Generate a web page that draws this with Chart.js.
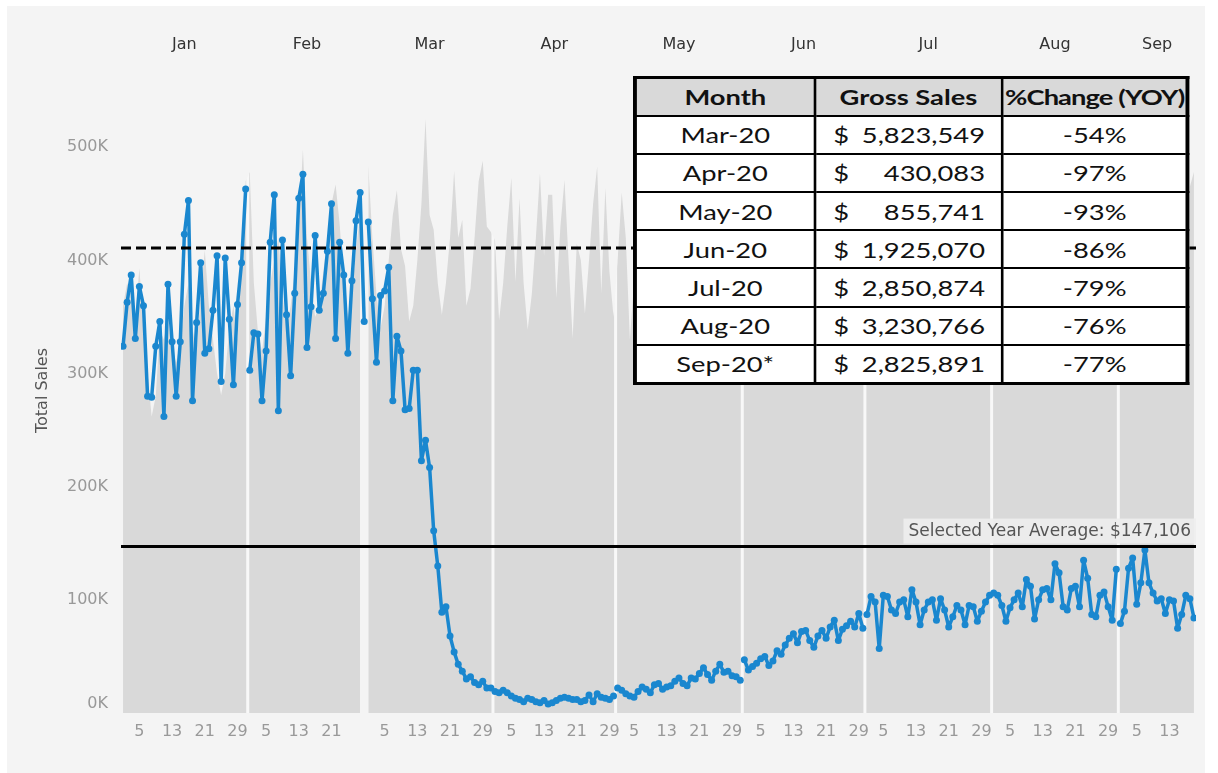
<!DOCTYPE html>
<html>
<head>
<meta charset="utf-8">
<script src="https://cdn.jsdelivr.net/npm/chart.js@4.4.1/dist/chart.umd.min.js"></script>
<style>
  html, body { margin:0; padding:0; background:#ffffff; width:1218px; height:773px; overflow:hidden; }
  #panel { position:absolute; left:7px; top:6px; width:1198px; height:767px; background:#f4f4f4; }
  #c { position:absolute; left:0; top:0; }
  #tblwrap { position:absolute; left:633px; top:76px; transform:scaleX(1.3); transform-origin:0 0; }
  #tbl { border-collapse:collapse; table-layout:fixed; width:425.5px; font-family:Lato, "DejaVu Sans", sans-serif;
         font-size:21px; color:#111; background:#fff; border:3px solid #000; }
  #tbl th, #tbl td { border:2px solid #000; padding:0; text-align:center; white-space:nowrap; overflow:hidden; }
  #tbl tr { height:38.2px; }
  #tbl th { background:#d9d9d9; font-weight:700; }
  #tbl th.pc { letter-spacing:-0.7px; }
  #tbl .m { display:flex; justify-content:space-between; padding:0 12px 0 13px; }
</style>
</head>
<body>
<div id="panel"></div>
<canvas id="c" width="1218" height="773"></canvas>
<div id="tblwrap"><table id="tbl"></table></div>
<script>
// ---------- axis / calendar ----------
const monthNames = ['Jan','Feb','Mar','Apr','May','Jun','Jul','Aug','Sep'];
const monthStartDay = [0, 31, 60, 91, 121, 152, 182, 213, 244];   // day index (2020 calendar)
const monthLengthShown = [31, 29, 31, 30, 31, 30, 31, 31, 19];
const tickMonthLength = [31, 28, 31, 30, 31, 30, 31, 31, 19];
const dayTickLabels = [5, 13, 21, 29];
const yTickValues = [0, 100, 200, 300, 400, 500];                  // thousands

// ---------- 2020 daily total sales (thousands) ----------
const sales2020Jan = [324,363,387,331,377,360,280,279,324,346,262,379,328,280,328,423,453,276,345,398,318,322,356,404,293,402,348,290,361,398,463];
const sales2020Feb = [303,336,335,276,320,416,458,267,418,352,298,371,455,476,323,359,422,356,371,408,450,331,416,387,318,382,435,460,346];
const sales2020Mar = [434,366,310,369,373,394,276,333,320,268,269,303,303,223,241,217,161,130,89,94,68,54,43,37,30,32,27,25,28,22,22];
const sales2020Apr = [19,18,20,18,15,13,12,10,13,12,10,9,11,8,9,11,13,14,13,12,12,10,11,16,10,17,14,13,12,15];
const sales2020May = [22,20,17,15,14,19,23,21,18,25,26,21,23,24,28,31,26,24,31,30,35,40,34,29,37,43,36,37,33,32,29];
const sales2020Jun = [47,38,41,44,48,50,42,46,55,52,60,66,70,62,72,73,64,58,68,73,66,76,82,64,74,77,81,76,88,75];
const sales2020Jul = [87,103,98,57,104,103,91,88,98,100,85,109,98,78,91,98,100,82,101,91,76,85,95,91,78,95,94,81,90,98,104];
const sales2020Aug = [106,104,95,81,93,100,106,94,118,112,83,100,109,110,100,132,124,94,91,110,112,94,135,119,87,85,104,107,94,82,127];
const sales2020Sep = [79,90,128,137,96,115,144,115,106,99,101,88,100,99,75,87,104,101,84];

// ---------- 2019 daily total sales (thousands), same calendar dates ----------
const sales2019Jan = [360,380,370,350,393,340,300,262,280,338,330,350,320,310,327,360,380,340,320,370,409,360,330,300,281,300,340,360,330,400,470];
const sales2019Feb = [478,380,337,320,350,380,400,420,370,340,360,390,430,498,420,380,350,360,390,420,450,467,432,380,350,370,410,440];
const sales2019Mar = [484,420,370,340,360,400,440,462,410,395,346,360,400,450,525,440,427,380,352,380,420,479,420,436,360,375,420,470,488,430,425];
const sales2019Apr = [418,347,380,430,473,381,455,380,339,370,420,477,404,458,458,367,430,471,400,331,415,400,353,400,450,483,371,464,390,350];
const sales2019May = [400,460,420,330,380,420,360,380,450,470,400,350,360,410,440,480,390,430,350,370,420,460,480,380,420,340,360,410,450,470,390];
const sales2019Jun = [440,350,360,400,450,480,390,430,345,370,410,460,485,395,440,350,365,405,455,478,400,430,340,360,410,450,490,395,445,350];
const sales2019Jul = [360,390,420,330,400,445,350,370,410,460,482,390,435,345,365,400,450,476,385,430,340,360,410,455,488,395,440,350,365,405,450];
const sales2019Aug = [470,390,435,345,360,400,455,480,395,440,350,370,410,450,485,400,430,345,360,405,460,478,390,440,350,365,410,455,482,395,430];
const sales2019Sep = [340,360,400,450,485,395,440,350,365,410,455,480,390,430,345,370,420,465,478];

// ---------- reference values (thousands) ----------
const selectedYearAverage = 147.106;
const priorYearAverage = 411;

// ---------- summary table ----------
const tableHeaders = ['Month', 'Gross Sales', '%Change (YOY)'];
const tableMonths = ['Mar-20','Apr-20','May-20','Jun-20','Jul-20','Aug-20','Sep-20*'];
const tableGrossSales = [5823549, 430083, 855741, 1925070, 2850874, 3230766, 2825891];
const tableChangeYoY = [-54, -97, -93, -86, -79, -76, -77];

// ---------- build table ----------
(function buildTable(){
  const t = document.getElementById('tbl');
  const cols = '<colgroup><col style="width:138.5px"><col style="width:143.8px"><col style="width:143.2px"></colgroup>';
  let html = cols + '<tr>' + tableHeaders.map((h,i)=>'<th' + (i===2?' class="pc"':'') + '>' + h + '</th>').join('') + '</tr>';
  tableMonths.forEach((m,i)=>{
    html += '<tr><td>' + m + '</td><td><div class="m"><span>$</span><span>' +
      tableGrossSales[i].toLocaleString('en-US') + '</span></div></td><td>' + tableChangeYoY[i] + '%</td></tr>';
  });
  t.innerHTML = html;
})();

// ---------- build datasets ----------
const months2020 = [sales2020Jan,sales2020Feb,sales2020Mar,sales2020Apr,sales2020May,sales2020Jun,sales2020Jul,sales2020Aug,sales2020Sep];
const months2019 = [sales2019Jan,sales2019Feb,sales2019Mar,sales2019Apr,sales2019May,sales2019Jun,sales2019Jul,sales2019Aug,sales2019Sep];

const points2020 = [];
months2020.forEach((arr, m) => {
  arr.forEach((v, i) => points2020.push({x: monthStartDay[m] + i, y: v}));
  if (m < months2020.length - 1) points2020.push({x: monthStartDay[m+1] - 0.5, y: null});
});
const points2019 = [];
months2019.forEach((arr, m) => {
  arr.forEach((v, i) => points2019.push({x: monthStartDay[m] + i, y: v}));
  if (arr.length < monthLengthShown[m]) points2019.push({x: monthStartDay[m] + arr.length, y: null});
});

const bottomTicks = [];
monthStartDay.forEach((s, m) => dayTickLabels.forEach(d => { if (d <= tickMonthLength[m]) bottomTicks.push(s + d - 1); }));
const topTicks = monthStartDay.map((s, m) => s + (monthLengthShown[m] - 1) / 2);

function dayOfMonth(v){
  let m = 0;
  for (let i = 0; i < monthStartDay.length; i++) if (v >= monthStartDay[i]) m = i;
  return String(Math.round(v - monthStartDay[m] + 1));
}

const refPlugin = {
  id: 'refs',
  afterDatasetDraw(chart, args){
    if (args.index !== 0) return;
    const {ctx, chartArea:{top, bottom}, scales:{x}} = chart;
    ctx.save();
    ctx.globalCompositeOperation = 'source-atop';   // only over the grey area
    ctx.strokeStyle = '#f8f8f8';
    ctx.lineWidth = 3;
    monthStartDay.slice(1).forEach(d => {
      const px = x.getPixelForValue(d - 0.5);
      ctx.beginPath(); ctx.moveTo(px, top); ctx.lineTo(px, bottom); ctx.stroke();
    });
    ctx.restore();
  },
  afterDatasetsDraw(chart){
    const {ctx, chartArea:{left, right}, scales:{y}} = chart;
    ctx.save();
    // prior-year average (dashed)
    const yd = y.getPixelForValue(priorYearAverage);
    ctx.strokeStyle = '#000'; ctx.lineWidth = 3; ctx.setLineDash([10,5]);
    ctx.beginPath(); ctx.moveTo(left, yd); ctx.lineTo(right, yd); ctx.stroke();
    // selected-year average (solid)
    const ya = y.getPixelForValue(selectedYearAverage);
    ctx.setLineDash([]);
    ctx.beginPath(); ctx.moveTo(left, ya); ctx.lineTo(right, ya); ctx.stroke();
    // label
    const txt = 'Selected Year Average: $' + Math.round(selectedYearAverage * 1000).toLocaleString('en-US');
    ctx.font = '17px "DejaVu Sans"';
    const w = ctx.measureText(txt).width;
    ctx.fillStyle = 'rgba(238,238,238,0.92)';
    ctx.fillRect(right - w - 10, ya - 28, w + 10, 25);
    ctx.fillStyle = '#555';
    ctx.textAlign = 'right'; ctx.textBaseline = 'middle';
    ctx.fillText(txt, right - 5, ya - 14.5);
    ctx.restore();
  }
};

Chart.defaults.font.family = '"DejaVu Sans", sans-serif';

new Chart(document.getElementById('c').getContext('2d'), {
  type: 'line',
  data: {
    datasets: [
      { label: '2019', data: points2019, xAxisID: 'x', yAxisID: 'y', fill: 'origin',
        backgroundColor: '#d9d9d9', borderColor: 'rgba(0,0,0,0)', borderWidth: 0,
        pointRadius: 0, pointHoverRadius: 0, tension: 0, spanGaps: false, order: 2 },
      { label: '2020', data: points2020, xAxisID: 'x', yAxisID: 'y', fill: false,
        borderColor: '#1a87cf', backgroundColor: '#1a87cf', borderWidth: 3.5,
        pointRadius: 3.5, pointBorderWidth: 0, pointHoverRadius: 3.5,
        borderJoinStyle: 'round', borderCapStyle: 'round',
        tension: 0, spanGaps: false, order: 1 }
    ]
  },
  options: {
    responsive: false, animation: false, devicePixelRatio: 1,
    layout: { padding: { left: 0, right: 22, top: 0, bottom: 0 } },
    plugins: { legend: { display: false }, tooltip: { enabled: false } },
    scales: {
      x: {
        type: 'linear', position: 'bottom', min: -0.5, max: 262.5,
        grid: { display: false, drawTicks: false }, border: { display: false },
        afterBuildTicks: s => { s.ticks = bottomTicks.map(v => ({value: v})); },
        afterFit: s => { s.height = 60; },
        ticks: { autoSkip: false, maxRotation: 0, minRotation: 0, padding: 9, color: '#999',
                 font: { size: 16 }, callback: v => dayOfMonth(v) }
      },
      xTop: {
        type: 'linear', position: 'top', min: -0.5, max: 262.5,
        grid: { display: false, drawTicks: false }, border: { display: false },
        afterBuildTicks: s => { s.ticks = topTicks.map(v => ({value: v})); },
        afterFit: s => { s.height = 68; },
        ticks: { autoSkip: false, maxRotation: 0, minRotation: 0, padding: 14, color: '#333',
                 font: { size: 16 }, callback: (v, i) => monthNames[i] }
      },
      y: {
        min: 0, max: 570,
        grid: { display: false, drawTicks: false }, border: { display: false },
        afterBuildTicks: s => { s.ticks = yTickValues.map(v => ({value: v})); },
        afterFit: s => { s.width = 121; },
        ticks: { padding: 13, color: '#999', font: { size: 16 },
                 callback: v => v === 0 ? ['0K', ''] : v + 'K' },
        title: { display: true, text: 'Total Sales', color: '#555', font: { size: 16 },
                 padding: { top: 33, bottom: 0 } }
      }
    }
  },
  plugins: [refPlugin]
});
</script>
</body>
</html>
